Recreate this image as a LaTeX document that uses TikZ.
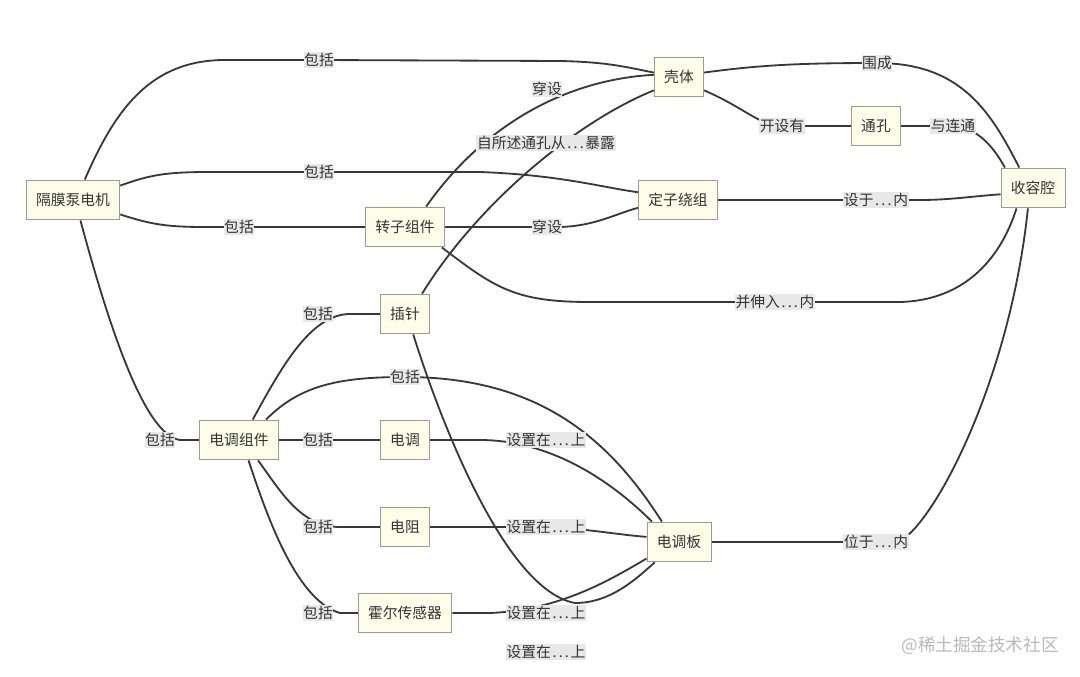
\documentclass[tikz,border=0pt]{standalone}
\usepackage{fontspec}
\setmainfont{Noto Sans CJK SC}
\newfontfamily\latinfont{Noto Sans}
\usetikzlibrary{backgrounds}
\newcommand{\elli}{{\latinfont\kern1.2pt.\kern1.6pt.\kern1.6pt.\kern1.2pt}}
\definecolor{boxfill}{HTML}{FDFDEA}
\definecolor{boxline}{HTML}{9C9C8C}
\definecolor{linkgray}{HTML}{383838}
\definecolor{lblfill}{HTML}{E8E8E8}
\definecolor{ink}{HTML}{333333}

\begin{document}
\begin{tikzpicture}[x=0.025cm, y=-0.025cm,
    box/.style={draw=boxline, fill=boxfill, line width=0.7pt, minimum height=28.3pt,
        inner xsep=7pt, text=ink, font=\fontsize{10.5}{12}\selectfont},
    lbl/.style={fill=lblfill, inner xsep=0.5pt, inner ysep=1pt, text=ink,
        font=\fontsize{10.5}{12}\selectfont},
    link/.style={draw=linkgray, line width=1.3pt}]
    \useasboundingbox (0,0) rectangle (1080,677);

    \node[box] (motor) at (73,200) {隔膜泵电机};
    \node[box] (shell) at (679,77) {壳体};
    \node[box] (hole) at (876,126) {通孔};
    \node[box] (stator) at (678,200) {定子绕组};
    \node[box] (rotor) at (405,227) {转子组件};
    \node[box] (cavity) at (1033,188) {收容腔};
    \node[box] (pin) at (405,314) {插针};
    \node[box] (escset) at (239,440) {电调组件};
    \node[box] (esc) at (405,440) {电调};
    \node[box] (res) at (405,527) {电阻};
    \node[box] (hall) at (405,613) {霍尔传感器};
    \node[box] (board) at (679,542) {电调板};

    \node[lbl] (t1) at (319,60) {包括};
    \node[lbl] (t2) at (319,172) {包括};
    \node[lbl] (t3) at (239,227) {包括};
    \node[lbl] (t4) at (160,440) {包括};
    \node[lbl] (t5) at (547,89) {穿设};
    \node[lbl] (t6) at (547,227) {穿设};
    \node[lbl] (t7) at (775,302) {并伸入\elli 内};
    \node[lbl] (t8) at (546,143) {自所述通孔从\elli 暴露};
    \node[lbl] (t9) at (782,126) {开设有};
    \node[lbl] (t10) at (953,126) {与连通};
    \node[lbl] (t11) at (877,63) {围成};
    \node[lbl] (t12) at (876,200) {设于\elli 内};
    \node[lbl] (t13) at (318,314) {包括};
    \node[lbl] (t14) at (405,377) {包括};
    \node[lbl] (t15) at (318,440) {包括};
    \node[lbl] (t16) at (318,527) {包括};
    \node[lbl] (t17) at (318,613) {包括};
    \node[lbl] (t18) at (546,440) {设置在\elli 上};
    \node[lbl] (t19) at (546,527) {设置在\elli 上};
    \node[lbl] (t20) at (546,613) {设置在\elli 上};
    \node[lbl] (t21) at (546,652) {设置在\elli 上};
    \node[lbl] (t22) at (876,542) {位于\elli 内};

    \node[text=gray!55, font=\fontsize{12.5}{14}\selectfont] (mark) at (980,646) {@稀土掘金技术社区};

    \begin{scope}[on background layer]
        \draw[link] (motor.60) .. controls (115,110) and (150,60) .. (225,60) -- (t1.center)
            -- (560,61) .. controls (610,62) and (630,68) .. (shell.170);
        \draw[link] (motor.17) .. controls (150,175) and (165,172) .. (210,172) -- (t2.center)
            -- (480,172) .. controls (560,175) and (600,187) .. (stator.169);
        \draw[link] (motor.-17) .. controls (150,224) and (165,227) .. (205,227) -- (t3.center) -- (rotor.west);
        \draw[link] (motor.-70) .. controls (110,330) and (145,435) .. (180,440) -- (escset.west);

        \draw[link] (rotor.44) .. controls (480,130) and (560,80) .. (shell.175);
        \draw[link] (rotor.east) -- (t6.center) -- (560,227) .. controls (595,226) and (615,214) .. (stator.191);
        \draw[link] (rotor.-29) .. controls (495,288) and (515,302) .. (590,302) -- (t7.center)
            -- (900,302) .. controls (975,300) and (1005,245) .. (cavity.-129);
        \draw[link] (pin.50) .. controls (480,200) and (580,120) .. (shell.-152);

        \draw[link] (shell.-28) .. controls (745,108) and (760,126) .. (t9.center) -- (hole.west);
        \draw[link] (hole.east) -- (t10.center) .. controls (980,128) and (995,150) .. (cavity.144);
        \draw[link] (shell.10) .. controls (760,65) and (800,63) .. (t11.center)
            .. controls (960,63) and (990,110) .. (cavity.124);
        \draw[link] (stator.east) -- (t12.center) -- (920,200) .. controls (950,200) and (975,196) .. (cavity.191);

        \draw[link] (escset.56) .. controls (280,370) and (310,314) .. (350,314) -- (pin.west);
        \draw[link] (escset.37) .. controls (300,385) and (340,377) .. (t14.center)
            .. controls (540,377) and (610,440) .. (board.130);
        \draw[link] (escset.east) -- (t15.center) -- (esc.west);
        \draw[link] (escset.-47) .. controls (280,490) and (300,527) .. (340,527) -- (res.west);
        \draw[link] (escset.-65) .. controls (265,510) and (295,600) .. (340,613) -- (hall.west);

        \draw[link] (esc.east) -- (480,440) .. controls (540,440) and (600,470) .. (board.143);
        \draw[link] (res.east) -- (t19.center) .. controls (590,529) and (620,535) .. (board.171);
        \draw[link] (hall.east) -- (490,613) .. controls (560,610) and (610,580) .. (board.-153);
        \draw[link] (pin.-68) .. controls (440,420) and (505,590) .. (575,603)
            .. controls (610,603) and (635,580) .. (board.-140);
        \draw[link] (board.east) -- (t22.center) -- (900,541) .. controls (935,522) and (1010,380) .. (cavity.-104);
    \end{scope}
\end{tikzpicture}
\end{document}
